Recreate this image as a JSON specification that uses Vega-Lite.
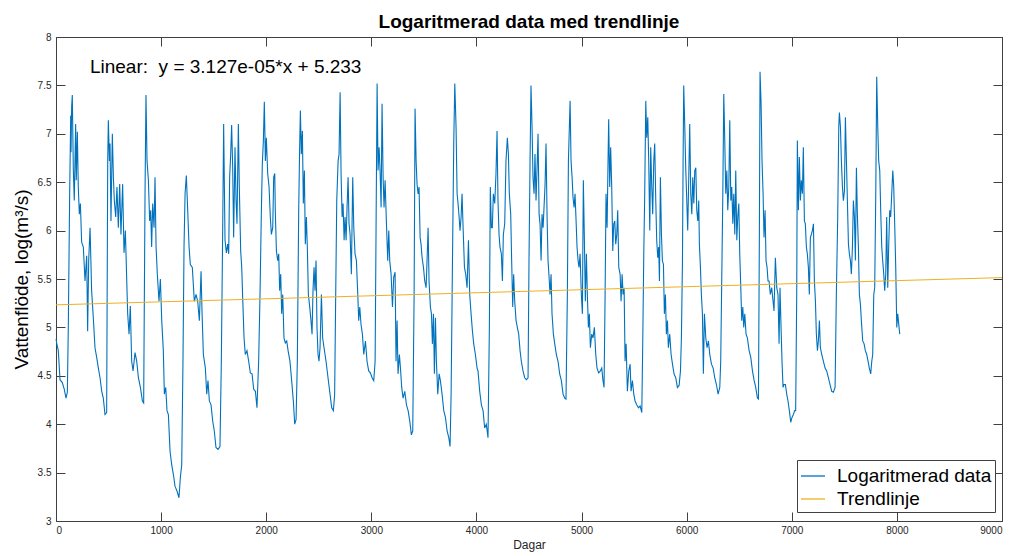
{
"$schema": "https://vega.github.io/schema/vega-lite/v6.json",
"autosize": {"type": "none"},
"width": 946,
"height": 484,
"padding": {"left": 56, "top": 37, "right": 13, "bottom": 35},
"background": "white",
"config": {"font": "Liberation Sans", "view": {"stroke": null}},
"title": {"text": "Logaritmerad data med trendlinje", "fontSize": 19, "fontWeight": "bold", "color": "#000000", "offset": 0, "anchor": "middle"},
"datasets": {
"t": [{"x": 0, "y": 5.233}, {"x": 9000, "y": 5.5144}],
"d": [
{"x":1,"y":4.88},{"x":6,"y":4.84},{"x":22,"y":4.76},{"x":38,"y":4.46},{"x":60,"y":4.43},{"x":79,"y":4.36},{"x":95,"y":4.27},{"x":108,"y":4.33},{"x":117,"y":5.0},{"x":130,"y":6.38},{"x":140,"y":7.19},{"x":143,"y":6.81},{"x":149,"y":7.28},{"x":155,"y":7.40},{"x":165,"y":6.62},{"x":174,"y":6.31},{"x":187,"y":7.10},{"x":193,"y":6.52},{"x":203,"y":7.02},{"x":212,"y":6.45},{"x":222,"y":6.17},{"x":232,"y":6.28},{"x":244,"y":5.88},{"x":260,"y":5.83},{"x":276,"y":5.48},{"x":292,"y":5.74},{"x":301,"y":4.96},{"x":311,"y":5.69},{"x":324,"y":6.03},{"x":339,"y":5.38},{"x":355,"y":5.10},{"x":371,"y":4.79},{"x":387,"y":4.69},{"x":403,"y":4.58},{"x":419,"y":4.48},{"x":435,"y":4.34},{"x":450,"y":4.27},{"x":466,"y":4.10},{"x":482,"y":4.12},{"x":492,"y":6.72},{"x":498,"y":7.14},{"x":508,"y":6.72},{"x":514,"y":6.90},{"x":523,"y":6.10},{"x":536,"y":7.0},{"x":546,"y":6.55},{"x":555,"y":6.31},{"x":568,"y":6.14},{"x":580,"y":6.45},{"x":593,"y":6.03},{"x":606,"y":6.48},{"x":618,"y":5.96},{"x":634,"y":6.48},{"x":647,"y":5.77},{"x":660,"y":6.00},{"x":672,"y":5.52},{"x":682,"y":5.14},{"x":695,"y":4.93},{"x":707,"y":5.22},{"x":720,"y":4.65},{"x":733,"y":4.55},{"x":752,"y":4.74},{"x":768,"y":4.65},{"x":784,"y":4.48},{"x":803,"y":4.38},{"x":822,"y":4.24},{"x":834,"y":4.22},{"x":847,"y":6.38},{"x":856,"y":7.40},{"x":866,"y":6.72},{"x":879,"y":6.52},{"x":891,"y":6.10},{"x":901,"y":6.21},{"x":910,"y":5.83},{"x":920,"y":6.28},{"x":933,"y":6.03},{"x":942,"y":6.55},{"x":952,"y":5.83},{"x":964,"y":5.55},{"x":980,"y":5.27},{"x":993,"y":5.50},{"x":1006,"y":5.07},{"x":1021,"y":4.76},{"x":1031,"y":4.31},{"x":1044,"y":4.38},{"x":1056,"y":4.14},{"x":1069,"y":4.10},{"x":1085,"y":3.72},{"x":1101,"y":3.58},{"x":1117,"y":3.48},{"x":1132,"y":3.36},{"x":1151,"y":3.31},{"x":1170,"y":3.24},{"x":1183,"y":3.45},{"x":1196,"y":3.58},{"x":1208,"y":4.65},{"x":1218,"y":5.83},{"x":1228,"y":6.38},{"x":1240,"y":6.57},{"x":1253,"y":6.21},{"x":1266,"y":5.83},{"x":1278,"y":5.65},{"x":1297,"y":5.62},{"x":1316,"y":5.27},{"x":1332,"y":5.34},{"x":1348,"y":5.27},{"x":1364,"y":5.07},{"x":1380,"y":5.58},{"x":1389,"y":5.17},{"x":1402,"y":4.72},{"x":1421,"y":4.58},{"x":1434,"y":4.31},{"x":1446,"y":4.45},{"x":1459,"y":4.24},{"x":1475,"y":4.20},{"x":1491,"y":4.03},{"x":1506,"y":3.93},{"x":1522,"y":3.76},{"x":1541,"y":3.74},{"x":1560,"y":3.77},{"x":1573,"y":4.65},{"x":1586,"y":6.03},{"x":1595,"y":7.10},{"x":1608,"y":5.90},{"x":1621,"y":5.77},{"x":1633,"y":5.86},{"x":1643,"y":5.76},{"x":1652,"y":6.55},{"x":1662,"y":6.79},{"x":1671,"y":7.09},{"x":1681,"y":6.65},{"x":1690,"y":5.93},{"x":1703,"y":6.86},{"x":1713,"y":6.31},{"x":1722,"y":6.07},{"x":1735,"y":7.10},{"x":1744,"y":6.45},{"x":1757,"y":5.79},{"x":1767,"y":5.62},{"x":1776,"y":5.31},{"x":1789,"y":4.89},{"x":1801,"y":4.72},{"x":1817,"y":4.76},{"x":1833,"y":4.65},{"x":1849,"y":4.53},{"x":1865,"y":4.52},{"x":1881,"y":4.36},{"x":1897,"y":4.34},{"x":1912,"y":4.17},{"x":1928,"y":4.65},{"x":1941,"y":5.34},{"x":1954,"y":6.21},{"x":1963,"y":6.69},{"x":1973,"y":6.93},{"x":1982,"y":7.33},{"x":1992,"y":6.72},{"x":2001,"y":6.96},{"x":2014,"y":6.59},{"x":2027,"y":6.45},{"x":2039,"y":6.14},{"x":2049,"y":5.96},{"x":2062,"y":6.03},{"x":2071,"y":6.55},{"x":2081,"y":6.59},{"x":2087,"y":6.17},{"x":2097,"y":5.79},{"x":2109,"y":5.69},{"x":2119,"y":5.76},{"x":2128,"y":5.38},{"x":2138,"y":5.55},{"x":2147,"y":5.14},{"x":2157,"y":5.34},{"x":2169,"y":4.89},{"x":2182,"y":4.84},{"x":2195,"y":4.86},{"x":2208,"y":4.76},{"x":2226,"y":4.65},{"x":2242,"y":4.45},{"x":2258,"y":4.24},{"x":2271,"y":4.00},{"x":2284,"y":4.05},{"x":2296,"y":4.65},{"x":2309,"y":6.21},{"x":2318,"y":6.86},{"x":2325,"y":7.24},{"x":2334,"y":6.79},{"x":2344,"y":7.03},{"x":2353,"y":6.28},{"x":2363,"y":6.62},{"x":2372,"y":5.86},{"x":2382,"y":6.14},{"x":2391,"y":5.83},{"x":2401,"y":5.34},{"x":2414,"y":5.21},{"x":2426,"y":5.07},{"x":2436,"y":4.93},{"x":2445,"y":5.38},{"x":2455,"y":5.62},{"x":2464,"y":5.38},{"x":2474,"y":5.69},{"x":2483,"y":5.00},{"x":2493,"y":4.72},{"x":2502,"y":4.65},{"x":2512,"y":4.79},{"x":2525,"y":5.34},{"x":2537,"y":4.89},{"x":2550,"y":4.79},{"x":2569,"y":4.65},{"x":2588,"y":4.48},{"x":2607,"y":4.31},{"x":2623,"y":4.17},{"x":2639,"y":4.14},{"x":2651,"y":4.31},{"x":2661,"y":5.34},{"x":2671,"y":6.31},{"x":2684,"y":6.72},{"x":2693,"y":6.79},{"x":2703,"y":7.43},{"x":2712,"y":6.59},{"x":2722,"y":6.14},{"x":2731,"y":6.28},{"x":2741,"y":5.90},{"x":2750,"y":6.14},{"x":2760,"y":5.90},{"x":2769,"y":6.24},{"x":2779,"y":6.55},{"x":2788,"y":6.07},{"x":2798,"y":5.96},{"x":2810,"y":5.55},{"x":2823,"y":6.55},{"x":2833,"y":6.03},{"x":2845,"y":5.76},{"x":2858,"y":5.69},{"x":2871,"y":5.34},{"x":2880,"y":5.07},{"x":2890,"y":5.21},{"x":2902,"y":5.03},{"x":2915,"y":4.93},{"x":2928,"y":4.72},{"x":2944,"y":4.86},{"x":2959,"y":4.65},{"x":2975,"y":4.55},{"x":2991,"y":4.53},{"x":3007,"y":4.48},{"x":3023,"y":4.45},{"x":3036,"y":4.65},{"x":3045,"y":6.03},{"x":3055,"y":7.52},{"x":3064,"y":6.62},{"x":3074,"y":6.86},{"x":3083,"y":6.62},{"x":3093,"y":6.24},{"x":3102,"y":7.31},{"x":3112,"y":6.55},{"x":3121,"y":6.24},{"x":3131,"y":6.52},{"x":3143,"y":6.10},{"x":3156,"y":5.69},{"x":3166,"y":6.00},{"x":3175,"y":5.69},{"x":3188,"y":5.55},{"x":3201,"y":5.21},{"x":3213,"y":5.52},{"x":3226,"y":5.57},{"x":3235,"y":4.65},{"x":3245,"y":5.07},{"x":3254,"y":4.52},{"x":3267,"y":4.72},{"x":3277,"y":4.58},{"x":3289,"y":4.38},{"x":3302,"y":4.27},{"x":3318,"y":4.34},{"x":3334,"y":4.20},{"x":3350,"y":4.14},{"x":3366,"y":4.03},{"x":3381,"y":3.89},{"x":3394,"y":3.93},{"x":3407,"y":5.34},{"x":3416,"y":7.26},{"x":3426,"y":6.72},{"x":3435,"y":6.48},{"x":3445,"y":6.38},{"x":3454,"y":6.45},{"x":3464,"y":5.93},{"x":3473,"y":5.86},{"x":3483,"y":5.72},{"x":3496,"y":5.62},{"x":3508,"y":5.48},{"x":3521,"y":5.41},{"x":3530,"y":5.69},{"x":3540,"y":6.03},{"x":3549,"y":5.48},{"x":3562,"y":5.21},{"x":3572,"y":5.14},{"x":3581,"y":4.83},{"x":3591,"y":5.14},{"x":3600,"y":4.52},{"x":3610,"y":5.10},{"x":3619,"y":4.65},{"x":3632,"y":4.31},{"x":3645,"y":4.52},{"x":3657,"y":4.45},{"x":3673,"y":4.31},{"x":3689,"y":4.14},{"x":3705,"y":4.07},{"x":3721,"y":3.93},{"x":3737,"y":3.86},{"x":3749,"y":3.77},{"x":3759,"y":4.31},{"x":3772,"y":5.69},{"x":3784,"y":6.90},{"x":3794,"y":7.52},{"x":3806,"y":7.07},{"x":3816,"y":6.38},{"x":3825,"y":6.28},{"x":3835,"y":6.14},{"x":3844,"y":6.00},{"x":3854,"y":6.14},{"x":3863,"y":6.38},{"x":3873,"y":6.03},{"x":3886,"y":5.62},{"x":3898,"y":5.55},{"x":3911,"y":5.41},{"x":3924,"y":5.90},{"x":3936,"y":5.34},{"x":3949,"y":5.14},{"x":3962,"y":4.96},{"x":3974,"y":4.83},{"x":3990,"y":4.72},{"x":4006,"y":4.58},{"x":4015,"y":4.55},{"x":4031,"y":4.34},{"x":4047,"y":4.20},{"x":4063,"y":4.14},{"x":4078,"y":3.96},{"x":4094,"y":4.00},{"x":4110,"y":3.86},{"x":4123,"y":5.00},{"x":4132,"y":6.45},{"x":4142,"y":6.03},{"x":4151,"y":6.03},{"x":4161,"y":6.38},{"x":4174,"y":6.28},{"x":4186,"y":6.59},{"x":4196,"y":7.03},{"x":4205,"y":6.31},{"x":4215,"y":5.96},{"x":4224,"y":5.83},{"x":4237,"y":5.76},{"x":4247,"y":5.48},{"x":4256,"y":5.96},{"x":4269,"y":6.07},{"x":4281,"y":6.72},{"x":4294,"y":6.96},{"x":4304,"y":6.79},{"x":4313,"y":6.38},{"x":4326,"y":6.17},{"x":4335,"y":5.69},{"x":4345,"y":5.21},{"x":4354,"y":5.55},{"x":4364,"y":5.27},{"x":4377,"y":5.07},{"x":4389,"y":5.00},{"x":4402,"y":4.93},{"x":4415,"y":4.76},{"x":4427,"y":4.65},{"x":4443,"y":4.55},{"x":4459,"y":4.48},{"x":4475,"y":4.46},{"x":4491,"y":4.48},{"x":4500,"y":5.69},{"x":4510,"y":6.72},{"x":4519,"y":7.50},{"x":4529,"y":7.07},{"x":4538,"y":6.55},{"x":4548,"y":6.38},{"x":4557,"y":6.79},{"x":4567,"y":6.31},{"x":4576,"y":6.62},{"x":4586,"y":7.00},{"x":4596,"y":6.17},{"x":4605,"y":6.07},{"x":4615,"y":5.69},{"x":4624,"y":6.17},{"x":4634,"y":6.03},{"x":4643,"y":6.24},{"x":4653,"y":6.48},{"x":4662,"y":6.90},{"x":4672,"y":6.14},{"x":4681,"y":5.69},{"x":4691,"y":5.52},{"x":4700,"y":5.34},{"x":4710,"y":5.55},{"x":4719,"y":5.14},{"x":4732,"y":4.93},{"x":4745,"y":4.83},{"x":4760,"y":4.72},{"x":4776,"y":4.65},{"x":4792,"y":4.52},{"x":4808,"y":4.45},{"x":4824,"y":4.31},{"x":4840,"y":4.27},{"x":4852,"y":4.26},{"x":4865,"y":5.34},{"x":4875,"y":6.72},{"x":4884,"y":7.07},{"x":4891,"y":7.34},{"x":4900,"y":6.72},{"x":4910,"y":6.55},{"x":4919,"y":6.34},{"x":4929,"y":6.24},{"x":4938,"y":6.38},{"x":4948,"y":6.10},{"x":4957,"y":5.83},{"x":4967,"y":5.69},{"x":4976,"y":5.62},{"x":4986,"y":5.76},{"x":4998,"y":5.34},{"x":5008,"y":5.14},{"x":5017,"y":6.52},{"x":5027,"y":5.90},{"x":5036,"y":5.27},{"x":5046,"y":5.76},{"x":5055,"y":5.34},{"x":5065,"y":5.00},{"x":5074,"y":5.14},{"x":5084,"y":4.79},{"x":5097,"y":4.93},{"x":5109,"y":4.89},{"x":5122,"y":5.00},{"x":5135,"y":4.72},{"x":5147,"y":4.58},{"x":5163,"y":4.53},{"x":5179,"y":4.55},{"x":5192,"y":4.58},{"x":5204,"y":4.45},{"x":5214,"y":4.38},{"x":5224,"y":5.34},{"x":5233,"y":6.38},{"x":5243,"y":6.03},{"x":5252,"y":6.72},{"x":5258,"y":7.15},{"x":5268,"y":6.45},{"x":5277,"y":6.86},{"x":5287,"y":6.45},{"x":5297,"y":5.79},{"x":5306,"y":6.07},{"x":5316,"y":6.10},{"x":5325,"y":5.86},{"x":5335,"y":5.96},{"x":5344,"y":6.21},{"x":5354,"y":5.62},{"x":5367,"y":5.55},{"x":5376,"y":5.27},{"x":5386,"y":5.55},{"x":5395,"y":5.34},{"x":5405,"y":5.41},{"x":5414,"y":4.65},{"x":5424,"y":4.83},{"x":5436,"y":4.34},{"x":5449,"y":4.55},{"x":5462,"y":4.62},{"x":5471,"y":4.34},{"x":5484,"y":4.45},{"x":5497,"y":4.31},{"x":5509,"y":4.24},{"x":5525,"y":4.20},{"x":5541,"y":4.17},{"x":5557,"y":4.19},{"x":5573,"y":4.12},{"x":5582,"y":4.83},{"x":5592,"y":5.76},{"x":5601,"y":6.38},{"x":5611,"y":7.34},{"x":5620,"y":6.96},{"x":5630,"y":7.17},{"x":5639,"y":6.72},{"x":5649,"y":6.00},{"x":5658,"y":6.86},{"x":5668,"y":6.45},{"x":5677,"y":6.17},{"x":5687,"y":6.72},{"x":5696,"y":6.90},{"x":5706,"y":6.31},{"x":5715,"y":5.90},{"x":5725,"y":5.72},{"x":5734,"y":5.83},{"x":5741,"y":5.48},{"x":5750,"y":6.55},{"x":5760,"y":5.96},{"x":5769,"y":5.69},{"x":5779,"y":5.65},{"x":5788,"y":5.14},{"x":5798,"y":5.34},{"x":5807,"y":4.93},{"x":5817,"y":5.07},{"x":5826,"y":4.79},{"x":5839,"y":4.93},{"x":5852,"y":4.72},{"x":5865,"y":4.62},{"x":5880,"y":4.52},{"x":5896,"y":4.48},{"x":5912,"y":4.38},{"x":5928,"y":4.40},{"x":5941,"y":4.55},{"x":5950,"y":4.89},{"x":5960,"y":5.69},{"x":5966,"y":6.72},{"x":5972,"y":7.50},{"x":5982,"y":7.07},{"x":5991,"y":6.65},{"x":6001,"y":6.31},{"x":6010,"y":6.00},{"x":6020,"y":6.55},{"x":6029,"y":7.10},{"x":6039,"y":6.38},{"x":6049,"y":6.17},{"x":6058,"y":6.55},{"x":6068,"y":6.28},{"x":6077,"y":6.62},{"x":6087,"y":6.65},{"x":6096,"y":6.21},{"x":6106,"y":6.10},{"x":6115,"y":6.31},{"x":6121,"y":5.86},{"x":6131,"y":5.62},{"x":6140,"y":5.34},{"x":6150,"y":5.14},{"x":6159,"y":4.52},{"x":6169,"y":5.14},{"x":6182,"y":4.89},{"x":6194,"y":4.79},{"x":6207,"y":4.86},{"x":6220,"y":4.72},{"x":6236,"y":4.62},{"x":6252,"y":4.58},{"x":6267,"y":4.48},{"x":6283,"y":4.41},{"x":6299,"y":4.31},{"x":6315,"y":4.38},{"x":6324,"y":4.65},{"x":6334,"y":5.52},{"x":6344,"y":6.38},{"x":6353,"y":7.41},{"x":6363,"y":6.90},{"x":6372,"y":6.38},{"x":6382,"y":6.62},{"x":6391,"y":6.21},{"x":6401,"y":6.45},{"x":6410,"y":7.14},{"x":6420,"y":6.31},{"x":6429,"y":6.45},{"x":6439,"y":6.07},{"x":6448,"y":6.38},{"x":6458,"y":5.96},{"x":6467,"y":6.62},{"x":6477,"y":5.90},{"x":6486,"y":6.14},{"x":6496,"y":6.28},{"x":6505,"y":5.76},{"x":6515,"y":5.41},{"x":6524,"y":5.07},{"x":6534,"y":5.21},{"x":6543,"y":5.00},{"x":6553,"y":5.14},{"x":6565,"y":4.93},{"x":6578,"y":4.89},{"x":6594,"y":4.76},{"x":6610,"y":4.69},{"x":6626,"y":4.55},{"x":6642,"y":4.45},{"x":6657,"y":4.38},{"x":6673,"y":4.27},{"x":6683,"y":4.26},{"x":6692,"y":6.03},{"x":6698,"y":7.64},{"x":6708,"y":7.31},{"x":6717,"y":6.72},{"x":6727,"y":6.38},{"x":6736,"y":5.93},{"x":6746,"y":6.21},{"x":6755,"y":5.69},{"x":6765,"y":5.62},{"x":6774,"y":5.48},{"x":6784,"y":5.48},{"x":6796,"y":5.34},{"x":6809,"y":5.41},{"x":6822,"y":5.27},{"x":6831,"y":5.17},{"x":6844,"y":5.72},{"x":6857,"y":5.41},{"x":6869,"y":5.34},{"x":6879,"y":4.83},{"x":6888,"y":5.41},{"x":6898,"y":5.00},{"x":6907,"y":4.65},{"x":6917,"y":4.38},{"x":6926,"y":4.41},{"x":6939,"y":4.41},{"x":6952,"y":4.31},{"x":6964,"y":4.24},{"x":6977,"y":4.14},{"x":6990,"y":4.02},{"x":7002,"y":4.07},{"x":7015,"y":4.10},{"x":7028,"y":4.14},{"x":7037,"y":4.14},{"x":7047,"y":5.34},{"x":7053,"y":6.93},{"x":7063,"y":6.21},{"x":7072,"y":6.76},{"x":7082,"y":6.31},{"x":7091,"y":6.52},{"x":7101,"y":6.38},{"x":7110,"y":6.86},{"x":7120,"y":6.10},{"x":7129,"y":6.07},{"x":7139,"y":5.83},{"x":7148,"y":5.76},{"x":7158,"y":5.62},{"x":7167,"y":5.34},{"x":7177,"y":5.93},{"x":7186,"y":5.96},{"x":7196,"y":6.00},{"x":7206,"y":6.07},{"x":7215,"y":5.48},{"x":7225,"y":5.27},{"x":7234,"y":4.93},{"x":7244,"y":4.76},{"x":7253,"y":4.86},{"x":7263,"y":5.07},{"x":7272,"y":4.79},{"x":7285,"y":4.72},{"x":7301,"y":4.65},{"x":7317,"y":4.58},{"x":7332,"y":4.55},{"x":7348,"y":4.48},{"x":7364,"y":4.41},{"x":7380,"y":4.34},{"x":7396,"y":4.33},{"x":7412,"y":4.38},{"x":7424,"y":5.34},{"x":7437,"y":6.14},{"x":7447,"y":7.07},{"x":7453,"y":7.22},{"x":7463,"y":7.07},{"x":7472,"y":6.72},{"x":7482,"y":6.45},{"x":7491,"y":6.31},{"x":7501,"y":6.41},{"x":7510,"y":7.17},{"x":7520,"y":6.72},{"x":7529,"y":6.31},{"x":7539,"y":5.86},{"x":7548,"y":5.76},{"x":7558,"y":5.69},{"x":7567,"y":5.55},{"x":7577,"y":5.83},{"x":7586,"y":6.31},{"x":7596,"y":6.14},{"x":7605,"y":5.69},{"x":7615,"y":6.65},{"x":7624,"y":6.17},{"x":7634,"y":5.83},{"x":7643,"y":5.34},{"x":7653,"y":5.24},{"x":7662,"y":5.07},{"x":7675,"y":4.86},{"x":7688,"y":4.83},{"x":7700,"y":4.76},{"x":7713,"y":4.72},{"x":7726,"y":4.65},{"x":7738,"y":4.58},{"x":7751,"y":4.52},{"x":7761,"y":4.65},{"x":7770,"y":4.72},{"x":7780,"y":5.34},{"x":7789,"y":5.41},{"x":7799,"y":6.38},{"x":7808,"y":7.59},{"x":7818,"y":7.07},{"x":7827,"y":6.72},{"x":7837,"y":6.62},{"x":7846,"y":6.21},{"x":7856,"y":5.83},{"x":7865,"y":5.69},{"x":7875,"y":5.55},{"x":7884,"y":5.38},{"x":7894,"y":5.55},{"x":7903,"y":6.14},{"x":7913,"y":5.41},{"x":7922,"y":5.83},{"x":7932,"y":6.21},{"x":7941,"y":6.14},{"x":7951,"y":6.38},{"x":7961,"y":6.62},{"x":7970,"y":6.45},{"x":7980,"y":6.03},{"x":7989,"y":5.62},{"x":7999,"y":5.00},{"x":8008,"y":5.14},{"x":8018,"y":5.03},{"x":8027,"y":4.93}
]
},
"layer": [
{
"data": {"name": "d"},
"mark": {"type": "line", "strokeWidth": 1.1},
"encoding": {
"x": {"field": "x", "type": "quantitative", "scale": {"domain": [0, 9000], "nice": false, "zero": false},
"axis": {"orient": "bottom", "values": [0,1000,2000,3000,4000,5000,6000,7000,8000,9000], "format": "d", "grid": false, "tickSize": -9, "tickColor": "#404040", "domainColor": "#404040", "labelColor": "#262626", "labelFontSize": 10, "labelPadding": 13, "title": "Dagar", "titleFontSize": 12, "titleFontWeight": "normal", "titleColor": "#262626", "titlePadding": 4}},
"y": {"field": "y", "type": "quantitative", "scale": {"domain": [3, 8], "nice": false, "zero": false},
"axis": {"orient": "left", "values": [3,3.5,4,4.5,5,5.5,6,6.5,7,7.5,8], "labelExpr": "'' + datum.value", "grid": false, "tickSize": -9, "tickColor": "#404040", "domainColor": "#404040", "labelColor": "#262626", "labelFontSize": 10, "labelPadding": 14, "title": "Vattenflöde, log(m³/s)", "titleFontSize": 19, "titleFontWeight": "normal", "titleColor": "#000000", "titlePadding": 6}},
"color": {"datum": "Logaritmerad data", "type": "nominal",
"scale": {"domain": ["Logaritmerad data", "Trendlinje"], "range": ["#0072BD", "#EDB120"]},
"legend": {"title": null, "orient": "none", "legendX": 741, "legendY": 423, "padding": 3, "strokeColor": "#404040", "fillColor": "#ffffff", "symbolType": "stroke", "symbolSize": 576, "symbolStrokeWidth": 1.3, "labelFontSize": 19, "labelColor": "#000000", "labelOffset": 11, "rowPadding": 0, "labelLimit": 400}}
}
},
{
"data": {"name": "t"},
"mark": {"type": "line", "strokeWidth": 1},
"encoding": {
"x": {"field": "x", "type": "quantitative", "scale": {"domain": [0, 9000], "nice": false, "zero": false},
"axis": {"orient": "top", "values": [0,1000,2000,3000,4000,5000,6000,7000,8000,9000], "labels": false, "grid": false, "tickSize": -9, "tickColor": "#404040", "domainColor": "#404040", "title": null}},
"y": {"field": "y", "type": "quantitative", "scale": {"domain": [3, 8], "nice": false, "zero": false},
"axis": {"orient": "right", "values": [3,3.5,4,4.5,5,5.5,6,6.5,7,7.5,8], "labels": false, "grid": false, "tickSize": -9, "tickColor": "#404040", "domainColor": "#404040", "title": null}},
"color": {"datum": "Trendlinje", "type": "nominal"}
}
},
{
"data": {"values": [{"x": 323, "y": 7.69, "label": "Linear:\u00a0\u00a0y = 3.127e-05*x + 5.233"}]},
"mark": {"type": "text", "align": "left", "baseline": "middle", "fontSize": 19, "color": "#000000"},
"encoding": {
"x": {"field": "x", "type": "quantitative", "scale": {"domain": [0, 9000], "nice": false, "zero": false}, "axis": null},
"y": {"field": "y", "type": "quantitative", "scale": {"domain": [3, 8], "nice": false, "zero": false}, "axis": null},
"text": {"field": "label"}
}
}
],
"resolve": {"scale": {"x": "independent", "y": "independent", "color": "shared"}}
}
